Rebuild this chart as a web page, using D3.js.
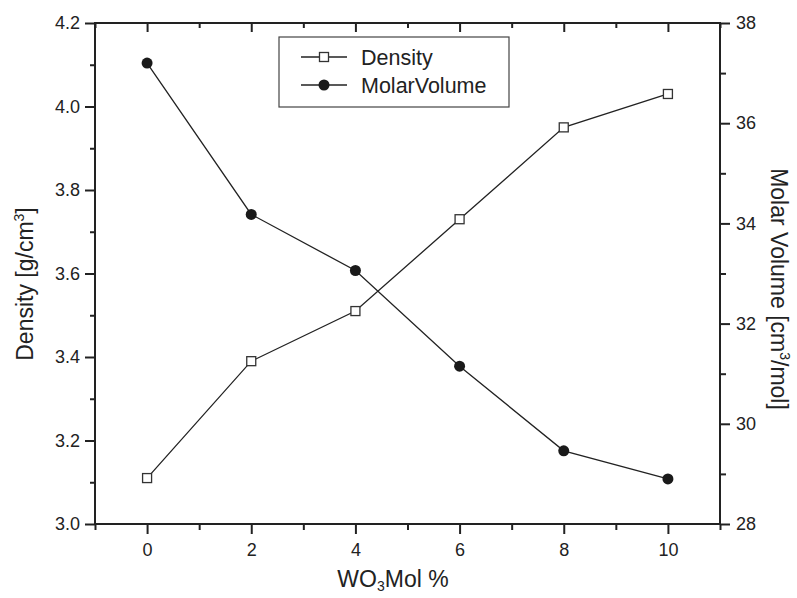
<!DOCTYPE html>
<html>
<head>
<meta charset="utf-8">
<script src="https://cdn.jsdelivr.net/npm/d3@7"></script>
<style>
  html, body { margin: 0; padding: 0; background: #fff; }
  svg { display: block; }
  text { font-family: "Liberation Sans", Arial, Helvetica, sans-serif; fill: #222; }
</style>
</head>
<body>
<svg id="chart" width="797" height="598"></svg>
<script>
// ---- data ----
const molPercent = [0, 2, 4, 6, 8, 10];
const density = [3.11, 3.39, 3.51, 3.73, 3.95, 4.03];
const molarVolume = [37.2, 34.18, 33.06, 31.15, 29.46, 28.9];
const xMajorTicks = [0, 2, 4, 6, 8, 10];
const xMinorTicks = [-1, 1, 3, 5, 7, 9, 11];
const yLeftMajorTicks = [3.0, 3.2, 3.4, 3.6, 3.8, 4.0, 4.2];
const yLeftMinorTicks = [3.1, 3.3, 3.5, 3.7, 3.9, 4.1];
const yRightMajorTicks = [28, 30, 32, 34, 36, 38];
const yRightMinorTicks = [29, 31, 33, 35, 37];
const seriesNames = ["Density", "MolarVolume"];

// ---- layout ----
const L = 95, R = 720, T = 23, B = 524;
const svg = d3.select("#chart");
const x = d3.scaleLinear().domain([-1, 11]).range([L, R]);
const yL = d3.scaleLinear().domain([3.0, 4.2]).range([B, T]);
const yR = d3.scaleLinear().domain([28, 38]).range([B, T]);

const ink = "#222";
function styleAxis(g) {
  g.select(".domain").remove();
  g.selectAll(".tick line").attr("stroke", ink).attr("stroke-width", 2);
  g.selectAll(".tick text").attr("font-size", 18).attr("fill", ink)
    .attr("font-family", "Liberation Sans, Arial, sans-serif");
}

// bottom
svg.append("g").attr("transform", `translate(0,${B})`)
  .call(d3.axisBottom(x).tickValues(xMinorTicks).tickSize(6).tickFormat(""))
  .call(styleAxis);
svg.append("g").attr("transform", `translate(0,${B})`)
  .call(d3.axisBottom(x).tickValues(xMajorTicks).tickSize(10).tickPadding(9).tickFormat(d3.format("d")))
  .call(styleAxis);
// top (inward)
svg.append("g").attr("transform", `translate(0,${T})`)
  .call(d3.axisTop(x).tickValues(xMinorTicks).tickSize(-5).tickFormat(""))
  .call(styleAxis);
svg.append("g").attr("transform", `translate(0,${T})`)
  .call(d3.axisTop(x).tickValues(xMajorTicks).tickSize(-9).tickFormat(""))
  .call(styleAxis);
// left
svg.append("g").attr("transform", `translate(${L},0)`)
  .call(d3.axisLeft(yL).tickValues(yLeftMinorTicks).tickSize(5).tickFormat(""))
  .call(styleAxis);
svg.append("g").attr("transform", `translate(${L},0)`)
  .call(d3.axisLeft(yL).tickValues(yLeftMajorTicks).tickSize(10).tickPadding(5).tickFormat(d3.format(".1f")))
  .call(styleAxis);
// right
svg.append("g").attr("transform", `translate(${R},0)`)
  .call(d3.axisRight(yR).tickValues(yRightMinorTicks).tickSize(6).tickFormat(""))
  .call(styleAxis);
svg.append("g").attr("transform", `translate(${R},0)`)
  .call(d3.axisRight(yR).tickValues(yRightMajorTicks).tickSize(10).tickPadding(6).tickFormat(d3.format("d")))
  .call(styleAxis);

// frame
svg.append("rect").attr("x", L).attr("y", T).attr("width", R - L).attr("height", B - T)
  .attr("fill", "none").attr("stroke", ink).attr("stroke-width", 2);

// ---- series ----
const dData = molPercent.map((m, i) => ({ x: m, y: density[i] }));
const mData = molPercent.map((m, i) => ({ x: m, y: molarVolume[i] }));

svg.append("path").datum(dData)
  .attr("fill", "none").attr("stroke", ink).attr("stroke-width", 1.3)
  .attr("d", d3.line().x(d => x(d.x)).y(d => yL(d.y)));
svg.append("path").datum(mData)
  .attr("fill", "none").attr("stroke", ink).attr("stroke-width", 1.3)
  .attr("d", d3.line().x(d => x(d.x)).y(d => yR(d.y)));

const sq = 9;
svg.selectAll("rect.dens").data(dData).enter().append("rect").attr("class", "dens")
  .attr("x", d => x(d.x) - sq / 2).attr("y", d => yL(d.y) - sq / 2)
  .attr("width", sq).attr("height", sq)
  .attr("fill", "#fff").attr("stroke", "#333").attr("stroke-width", 1.3);
svg.selectAll("circle.mv").data(mData).enter().append("circle").attr("class", "mv")
  .attr("cx", d => x(d.x)).attr("cy", d => yR(d.y)).attr("r", 5.5)
  .attr("fill", "#1a1a1a");

// ---- legend ----
const lg = svg.append("g");
lg.append("rect").attr("x", 279).attr("y", 37).attr("width", 230).attr("height", 70)
  .attr("fill", "#fff").attr("stroke", "#444").attr("stroke-width", 1.2);
const rows = [57, 85];
seriesNames.forEach((name, i) => {
  const yy = rows[i];
  lg.append("line").attr("x1", 301).attr("x2", 347).attr("y1", yy).attr("y2", yy)
    .attr("stroke", ink).attr("stroke-width", 1.3);
  if (i === 0) {
    lg.append("rect").attr("x", 324 - sq / 2).attr("y", yy - sq / 2).attr("width", sq).attr("height", sq)
      .attr("fill", "#fff").attr("stroke", "#333").attr("stroke-width", 1.3);
  } else {
    lg.append("circle").attr("cx", 324).attr("cy", yy).attr("r", 5.5).attr("fill", "#1a1a1a");
  }
  lg.append("text").attr("x", 361).attr("y", yy + 7.5).attr("font-size", 21.5).text(name);
});

// ---- axis titles ----
const xt = svg.append("text").attr("x", 393).attr("y", 587).attr("text-anchor", "middle").attr("font-size", 23);
xt.append("tspan").text("WO");
xt.append("tspan").attr("font-size", 14).attr("dy", 4).text("3");
xt.append("tspan").attr("dy", -4).text("Mol %");

const ylt = svg.append("text").attr("transform", `translate(33,${284}) rotate(-90)`)
  .attr("text-anchor", "middle").attr("font-size", 23);
ylt.append("tspan").text("Density [g/cm");
ylt.append("tspan").attr("font-size", 14).attr("dy", -9).text("3");
ylt.append("tspan").attr("dy", 9).text("]");

const yrt = svg.append("text").attr("transform", `translate(771,${289}) rotate(90)`)
  .attr("text-anchor", "middle").attr("font-size", 23);
yrt.append("tspan").text("Molar Volume [cm");
yrt.append("tspan").attr("font-size", 14).attr("dy", -9).text("3");
yrt.append("tspan").attr("dy", 9).text("/mol]");
</script>
</body>
</html>
